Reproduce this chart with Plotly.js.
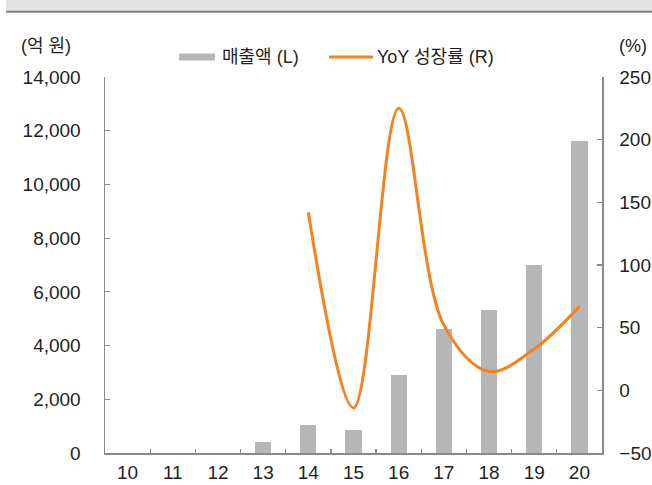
<!DOCTYPE html>
<html>
<head>
<meta charset="utf-8">
<script src="https://cdn.plot.ly/plotly-3.0.1.min.js"></script>
<style>
  html, body { margin: 0; padding: 0; background: #fff; }
  #chart { width: 652px; height: 485px; }
</style>
</head>
<body>
<div id="chart"></div>
<script>
// Years (two-digit) on the category axis
const years = ['10', '11', '12', '13', '14', '15', '16', '17', '18', '19', '20'];
// Revenue, 100M KRW (left axis)
const revenue = [0, 0, 0, 410, 1030, 870, 2910, 4620, 5340, 7000, 11620];
// YoY growth, % (right axis)
const growthYears = ['14', '15', '16', '17', '18', '19', '20'];
const growth = [142, -14, 225, 52, 15, 33, 67];

const revenueName = '매출액 (L)';
const growthName = 'YoY 성장률 (R)';
const leftUnit = '(억 원)';
const rightUnit = '(%)';

const W = 652, H = 485;
const M = { l: 105, r: 50, t: 77, b: 32 };
const plotW = W - M.l - M.r, plotH = H - M.t - M.b;
// pixel -> paper coordinate helpers for decorations outside the plot area
const px = x => (x - M.l) / plotW;
const py = y => 1 - (y - M.t) / plotH;

const BAR = '#b5b6b8';
const LINE = '#f5821f';
const AXIS = '#8a8a8a';
const TXT = '#231f20';
const FONT = 'Liberation Sans, Arial, Noto Sans CJK KR, sans-serif';

const traces = [
  {
    type: 'bar', x: years, y: revenue, name: revenueName,
    marker: { color: BAR }, width: 0.36, yaxis: 'y', showlegend: false,
    hoverinfo: 'skip'
  },
  {
    type: 'scatter', mode: 'lines', x: growthYears, y: growth, name: growthName,
    line: { color: LINE, width: 3, shape: 'spline', smoothing: 1 },
    yaxis: 'y2', showlegend: false, hoverinfo: 'skip'
  }
];

const axisCommon = {
  showgrid: false, zeroline: false, showline: true, linecolor: AXIS, linewidth: 1.5,
  ticks: 'inside', ticklen: 5, tickwidth: 1.2, tickcolor: AXIS,
  tickfont: { family: FONT, size: 19, color: TXT }
};

const layout = {
  width: W, height: H,
  margin: M,
  paper_bgcolor: '#fff', plot_bgcolor: '#fff',
  showlegend: false,
  bargap: 0,
  xaxis: Object.assign({}, axisCommon, {
    type: 'category', range: [-0.5, 10.5], tickson: 'boundaries',
    ticklen: 4, ticklabelstandoff: 2
  }),
  yaxis: Object.assign({}, axisCommon, {
    range: [0, 14000], dtick: 2000, tickformat: ',d', ticklabelstandoff: 19
  }),
  yaxis2: Object.assign({}, axisCommon, {
    range: [-50, 250], dtick: 50, overlaying: 'y', side: 'right', ticklabelstandoff: 12
  }),
  shapes: [
    // header band
    { type: 'rect', xref: 'paper', yref: 'paper', x0: px(6), x1: px(W + 2), y0: py(11), y1: py(-2),
      fillcolor: '#e4e4e4', line: { width: 0 }, layer: 'below' },
    { type: 'line', xref: 'paper', yref: 'paper', x0: px(6), x1: px(W + 2), y0: py(11.7), y1: py(11.7),
      line: { color: '#808080', width: 2 } },
    // legend swatches
    { type: 'rect', xref: 'paper', yref: 'paper', x0: px(179), x1: px(215), y0: py(60.5), y1: py(53.5),
      fillcolor: BAR, line: { width: 0 } },
    { type: 'line', xref: 'paper', yref: 'paper', x0: px(329), x1: px(373), y0: py(57), y1: py(57),
      line: { color: LINE, width: 3 } }
  ],
  annotations: [
    { xref: 'paper', yref: 'paper', x: px(220), y: py(57), xanchor: 'left', yanchor: 'middle',
      text: revenueName, showarrow: false, font: { family: FONT, size: 18, color: TXT } },
    { xref: 'paper', yref: 'paper', x: px(375), y: py(57), xanchor: 'left', yanchor: 'middle',
      text: growthName, showarrow: false, font: { family: FONT, size: 18, color: TXT } },
    { xref: 'paper', yref: 'paper', x: px(19), y: py(46), xanchor: 'left', yanchor: 'middle',
      text: leftUnit, showarrow: false, font: { family: FONT, size: 18, color: TXT } },
    { xref: 'paper', yref: 'paper', x: px(649), y: py(46), xanchor: 'right', yanchor: 'middle',
      text: rightUnit, showarrow: false, font: { family: FONT, size: 18, color: TXT } }
  ]
};

Plotly.newPlot('chart', traces, layout, { staticPlot: true, displayModeBar: false });
</script>
</body>
</html>
